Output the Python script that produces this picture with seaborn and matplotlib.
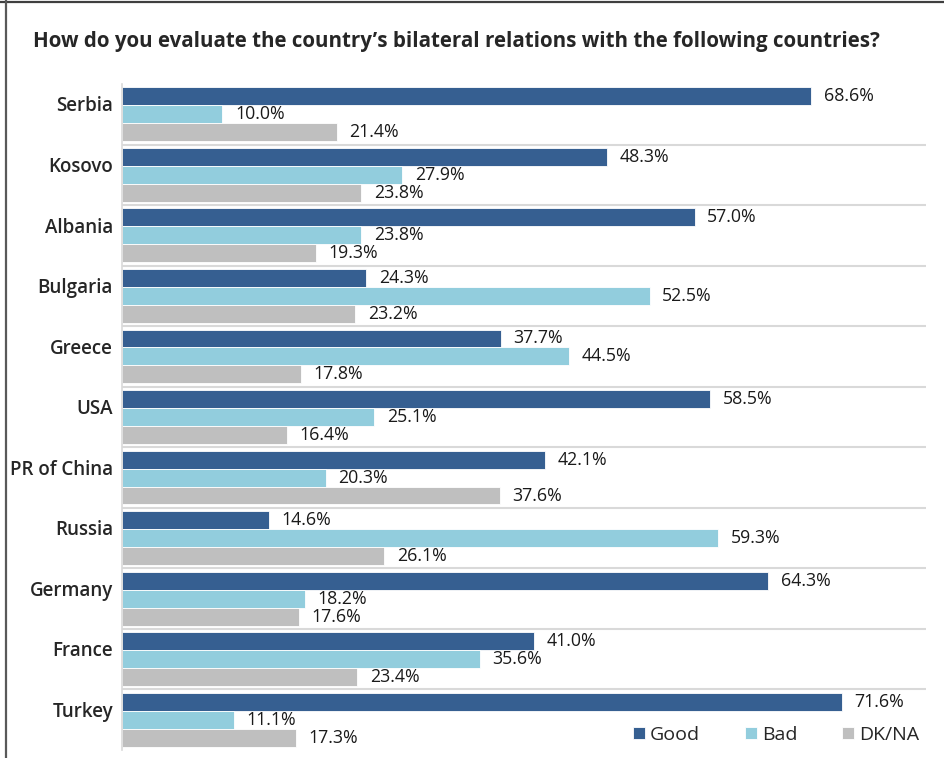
import matplotlib
matplotlib.use("Agg")
import matplotlib.pyplot as plt
from matplotlib.lines import Line2D
import seaborn as sns
import pandas as pd

# Survey data
countries = ["Serbia", "Kosovo", "Albania", "Bulgaria", "Greece", "USA",
             "PR of China", "Russia", "Germany", "France", "Turkey"]
good = [68.6, 48.3, 57.0, 24.3, 37.7, 58.5, 42.1, 14.6, 64.3, 41.0, 71.6]
bad = [10.0, 27.9, 23.8, 52.5, 44.5, 25.1, 20.3, 59.3, 18.2, 35.6, 11.1]
dkna = [21.4, 23.8, 19.3, 23.2, 17.8, 16.4, 37.6, 26.1, 17.6, 23.4, 17.3]
series = ["Good", "Bad", "DK/NA"]
colors = ["#365F91", "#92CDDD", "#BFBFBF"]

df = pd.DataFrame({
    "Country": countries * 3,
    "Answer": [s for s in series for _ in countries],
    "Share": good + bad + dkna,
})

sns.set_theme(style="white")
plt.rcParams["font.family"] = ["Open Sans", "DejaVu Sans"]

W, H = 945, 758
fig = plt.figure(figsize=(W / 100, H / 100), dpi=100)
ax = fig.add_axes([122 / W, 1 - 750 / H, (926 - 122) / W, (750 - 84) / H])

sns.barplot(data=df, y="Country", x="Share", hue="Answer", order=countries,
            hue_order=series, palette=colors, orient="h", width=0.89,
            edgecolor="white", linewidth=0.6, saturation=1, ax=ax, legend=True)

ax.set_xlim(0, 80)
ax.set_ylim(len(countries) - 0.5, -0.5)
ax.set_xlabel("")
ax.set_ylabel("")
ax.set_xticks([])

# Group separators
for i in range(len(countries) - 1):
    ax.axhline(i + 0.5, color="#D9D9D9", lw=1.5, zorder=0)

for side in ["top", "right", "bottom"]:
    ax.spines[side].set_visible(False)
ax.spines["left"].set_color("#D9D9D9")
ax.spines["left"].set_linewidth(1.2)

# Category labels sit slightly above the group centre
ax.set_yticks([i - 0.17 for i in range(len(countries))])
ax.set_yticklabels(countries, fontsize=13.5, fontweight="semibold", color="#262626")
ax.tick_params(axis="y", length=0, pad=6.5)

# Value labels
for container in ax.containers:
    ax.bar_label(container, labels=[f"{v:.1f}%" for v in container.datavalues],
                 padding=9, fontsize=12.8, color="#1A1A1A")

leg = ax.legend(loc="center", bbox_to_anchor=(776 / W, 1 - 735 / H),
                bbox_transform=fig.transFigure, ncol=3, frameon=False,
                handlelength=0.62, handleheight=0.62, handletextpad=0.25,
                columnspacing=2.3, fontsize=14)
for t in leg.get_texts():
    t.set_color("#262626")

fig.text(33 / W, 1 - 42 / H,
         "How do you evaluate the country\u2019s bilateral relations with the following countries?",
         fontsize=14.8, fontweight="bold", color="#262626", va="center", ha="left")

# Frame lines along top and left edges
fig.add_artist(Line2D([0, 1], [1 - 1.5 / H, 1 - 1.5 / H], color="#3F3F3F", lw=1.6,
                      transform=fig.transFigure))
fig.add_artist(Line2D([6 / W, 6 / W], [0, 1], color="#595959", lw=1.6,
                      transform=fig.transFigure))

fig.savefig("out.png", dpi=100, facecolor="white")
